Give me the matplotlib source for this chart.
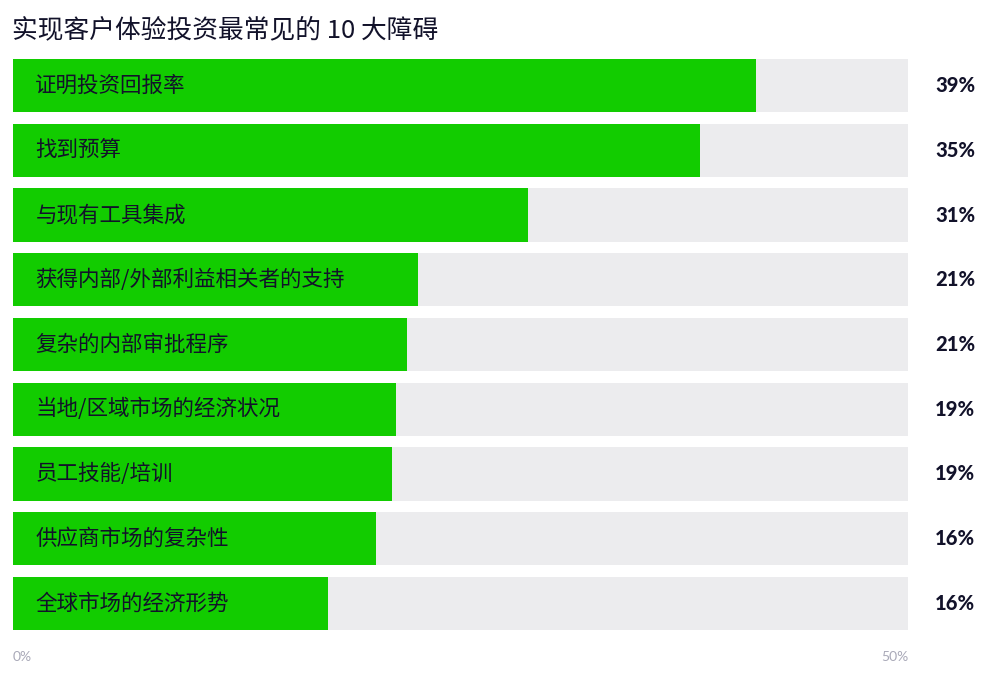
import matplotlib
matplotlib.use("Agg")
import matplotlib.pyplot as plt

plt.rcParams['font.family'] = ['Noto Sans CJK SC', 'DejaVu Sans']

# Data (bar lengths, labels as printed)
categories = ['证明投资回报率', '找到预算', '与现有工具集成', '获得内部/外部利益相关者的支持',
              '复杂的内部审批程序', '当地/区域市场的经济状况', '员工技能/培训',
              '供应商市场的复杂性', '全球市场的经济形势']
bar_values = [41.5, 38.4, 28.75, 22.6, 22.0, 21.4, 21.2, 20.3, 17.6]
pct_labels = ['39%', '35%', '31%', '21%', '21%', '19%', '19%', '16%', '16%']
axis_max = 50
tick_labels = ['0%', '50%']

green = '#12cc00'
track = '#ececee'
dark = '#12122a'
grey = '#a9a9b8'
latin = ['Lato', 'DejaVu Sans']

fig = plt.figure(figsize=(10, 6.8), dpi=100)
ax = fig.add_axes([0.013, 1 - 630 / 680, 0.895, 571 / 680])

y = list(range(len(categories)))
ax.barh(y, [axis_max] * len(y), height=0.82, color=track, edgecolor='none')
ax.barh(y, bar_values, height=0.82, color=green, edgecolor='none')

for yi, cat, lab in zip(y, categories, pct_labels):
    ax.text(1.25, yi, cat, va='center', ha='left', fontsize=15.5, color=dark)
    ax.text(1.075, yi, lab, transform=ax.get_yaxis_transform(), va='center', ha='right',
            fontsize=14.5, fontweight='black', color=dark, family=latin)

ax.set_xlim(0, axis_max)
ax.set_ylim(len(y) - 1 + 0.41, -0.41)
ax.axis('off')

# 0% / 50% scale labels under the bars
ax.text(0, -0.047, tick_labels[0], transform=ax.transAxes, ha='left', va='center',
        fontsize=10, color=grey, family=latin)
ax.text(1, -0.047, tick_labels[1], transform=ax.transAxes, ha='right', va='center',
        fontsize=10, color=grey, family=latin)

fig.text(0.012, 1 - 30 / 680, '实现客户体验投资最常见的 10 大障碍', ha='left', va='center',
         fontsize=18.5, color=dark)

fig.savefig('out.png', dpi=100)
